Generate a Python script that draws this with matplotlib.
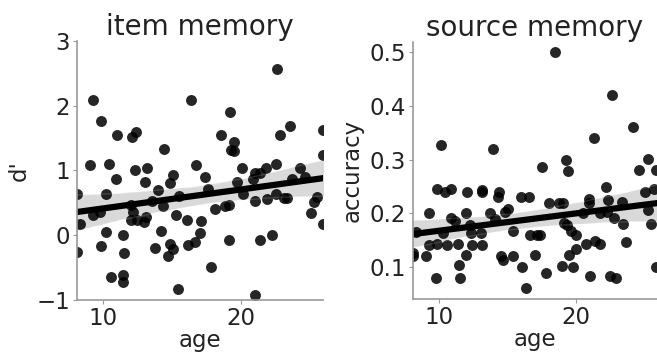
import matplotlib
matplotlib.use("Agg")
import matplotlib.pyplot as plt
import numpy as np
import seaborn as sns

# item memory (d') vs age
item_age = [8.1, 9.03, 9.27, 9.88, 10.19, 10.41, 11.02, 10.9, 12.06, 12.35, 12.3, 13.03,
            13.16, 14.0, 14.42, 14.85, 15.1, 15.53, 16.36, 16.75, 17.35, 17.57, 18.54,
            19.17, 19.47, 19.3, 19.47, 19.71, 20.07, 20.15, 20.85, 21.04, 21.36, 21.82,
            22.5, 22.62, 22.82, 23.52, 23.71, 24.25, 24.64, 25.95, 25.9, 23.35, 22.55,
            8.35, 8.1, 9.27, 9.76, 9.88, 10.24, 10.56, 11.46, 11.5, 11.46, 11.46, 12.01,
            12.18, 12.01, 12.43, 13.08, 12.99, 13.52, 13.76, 14.17, 14.37, 14.68, 14.85,
            15.05, 15.27, 15.46, 16.07, 16.12, 16.63, 17.04, 17.09, 17.84, 18.13, 18.86,
            19.1, 19.1, 20.97, 21.04, 21.4, 21.9, 22.26, 23.1, 25.05, 25.29, 25.53, 25.9]
item_dprime = [0.63, 1.08, 2.08, 1.77, 0.64, 1.10, 1.54, 0.87, 1.51, 1.59, 1.00, 0.82,
               1.03, 0.70, 1.33, 0.80, 0.93, 0.61, 2.09, 1.08, 0.90, 0.72, 1.55,
               1.90, 1.44, 1.31, 1.30, 0.82, 1.03, 0.64, 0.86, 0.96, 0.96, 1.03,
               1.10, 2.56, 1.54, 1.68, 0.86, 1.03, 0.90, 1.62, 1.23, 0.58, 0.63,
               0.17, -0.26, 0.31, 0.36, -0.17, 0.05, -0.64, 0.00, -0.27, -0.62, -0.73, 0.46,
               0.36, 0.24, 0.24, 0.28, 0.20, 0.52, -0.20, 0.06, 0.45, -0.32, -0.13,
               -0.22, 0.31, -0.83, 0.24, -0.15, -0.11, 0.04, 0.22, -0.49, 0.41, 0.45,
               0.46, -0.07, 0.53, -0.92, -0.08, 0.56, 0.00, 0.58, 0.34, 0.51, 0.59, 0.18]

# source memory (accuracy) vs age
src_age = [10.15, 9.88, 10.44, 10.93, 12.07, 13.12, 13.12, 13.93, 14.41, 17.51, 18.49,
           19.27, 19.41, 21.29, 22.2, 22.59, 24.15, 24.59, 25.24, 25.8, 25.0, 25.68,
           8.12, 8.12, 8.32, 9.1, 9.29, 9.29, 9.88, 9.78, 10.32, 10.61, 10.93, 11.17,
           11.41, 11.46, 11.54, 12.02, 11.98, 12.27, 12.34, 12.39, 13.05, 13.12, 13.73,
           14.1, 14.34, 14.51, 14.71, 14.83, 15.07, 15.39, 15.44, 16.0, 16.61, 16.07,
           16.37, 16.66, 16.98, 17.15, 17.39, 17.83, 18.0, 18.73, 19.05, 18.98, 19.15,
           19.34, 19.46, 19.63, 19.76, 20.02, 20.02, 20.51, 20.76, 20.93, 20.93, 21.0,
           21.41, 21.73, 21.78, 22.34, 22.27, 22.46, 22.76, 22.95, 23.37, 23.44, 23.61,
           25.24, 25.44, 25.8]
src_acc = [0.327, 0.245, 0.239, 0.245, 0.240, 0.243, 0.239, 0.319, 0.240, 0.286, 0.500,
           0.299, 0.279, 0.340, 0.250, 0.421, 0.361, 0.281, 0.301, 0.281, 0.239, 0.245,
           0.126, 0.121, 0.166, 0.120, 0.200, 0.141, 0.143, 0.080, 0.163, 0.141, 0.191, 0.185,
           0.143, 0.104, 0.080, 0.200, 0.123, 0.179, 0.163, 0.141, 0.163, 0.141, 0.200,
           0.189, 0.230, 0.120, 0.114, 0.203, 0.208, 0.167, 0.120, 0.230, 0.230, 0.100,
           0.061, 0.160, 0.123, 0.160, 0.160, 0.089, 0.220, 0.220, 0.220, 0.102, 0.182,
           0.179, 0.123, 0.168, 0.100, 0.160, 0.133, 0.200, 0.143, 0.220, 0.226, 0.083,
           0.149, 0.143, 0.200, 0.224, 0.203, 0.084, 0.192, 0.080, 0.222, 0.180, 0.146,
           0.206, 0.180, 0.100]

sns.set_style("ticks")
plt.rcParams['font.family'] = ['DejaVu Sans']

fig = plt.figure(figsize=(6.57, 3.55), dpi=100)
ax1 = fig.add_axes([0.117, 0.155, 0.374, 0.730])
ax2 = fig.add_axes([0.628, 0.157, 0.372, 0.726])

scat = dict(s=62, alpha=0.85, linewidths=0)
line = dict(lw=4.5)

sns.regplot(x=np.array(item_age), y=np.array(item_dprime), ax=ax1, color='black',
            scatter_kws=scat, line_kws=line, seed=1, truncate=False)
sns.regplot(x=np.array(src_age), y=np.array(src_acc), ax=ax2, color='black',
            scatter_kws=scat, line_kws=line, seed=1, truncate=False)

ax1.set_xlim(8.1, 25.9)
ax1.set_ylim(-1, 3)
ax1.set_yticks([-1, 0, 1, 2, 3])
ax2.set_xlim(8.1, 25.9)
ax2.set_ylim(0.04, 0.52)
ax2.set_yticks([0.1, 0.2, 0.3, 0.4, 0.5])

for ax, title, ylab in [(ax1, 'item memory', "d'"), (ax2, 'source memory', 'accuracy')]:
    ax.set_xticks([10, 20])
    ax.set_title(title, fontsize=20, color='#222222', pad=2)
    ax.set_xlabel('age', fontsize=16.5, color='#222222', labelpad=-1)
    ax.set_ylabel(ylab, fontsize=16.5, color='#222222', labelpad=4)
    ax.tick_params(labelsize=16.5, colors='#222222', length=3, width=0.8, pad=2)
    for sp in ['top', 'right']:
        ax.spines[sp].set_visible(False)
    for sp in ['left', 'bottom']:
        ax.spines[sp].set_color('#999999')
        ax.spines[sp].set_linewidth(1.2)
    ax.tick_params(axis='both', color='#999999')

fig.savefig('out.png', dpi=100)
